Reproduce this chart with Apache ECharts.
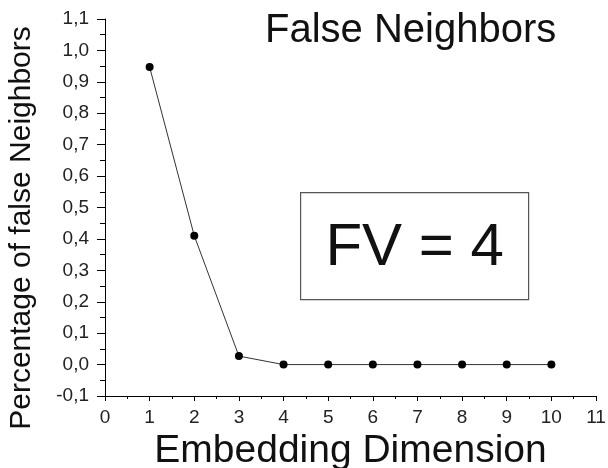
<!DOCTYPE html>
<html>
<head>
<meta charset="utf-8">
<script src="https://cdn.jsdelivr.net/npm/echarts@6/dist/echarts.min.js"></script>
<style>
  html, body { margin: 0; padding: 0; background: #fff; }
  #chart { width: 608px; height: 468px; }
</style>
</head>
<body>
<div id="chart"></div>
<script>
// embedding dimension vs fraction of false neighbours
const dims = [1, 2, 3, 4, 5, 6, 7, 8, 9, 10];
const falseFrac = [0.947, 0.41, 0.027, 0, 0, 0, 0, 0, 0, 0];
const xTicks = [0, 1, 2, 3, 4, 5, 6, 7, 8, 9, 10, 11];
const yTicks = [-0.1, 0, 0.1, 0.2, 0.3, 0.4, 0.5, 0.6, 0.7, 0.8, 0.9, 1.0, 1.1];
const boxText = 'FV = 4';

const font = 'Liberation Sans, Arial, sans-serif';

const chart = echarts.init(document.getElementById('chart'));

const fmt = (v) => v.toFixed(1).replace('.', ',');

chart.setOption({
  animation: false,
  backgroundColor: '#fff',
  title: {
    text: 'False Neighbors',
    left: 260,
    top: 6,
    textStyle: { fontFamily: font, fontSize: 40, fontWeight: 'normal', color: '#111' }
  },
  grid: { left: 105, right: 12, top: 19, bottom: 72, outerBoundsMode: 'none', containLabel: false },
  xAxis: {
    type: 'value',
    min: xTicks[0],
    max: xTicks[xTicks.length - 1],
    interval: 1,
    name: 'Embedding Dimension',
    nameLocation: 'middle',
    nameGap: 31,
    nameTextStyle: { fontFamily: font, fontSize: 39, color: '#111' },
    axisLine: { onZero: false, lineStyle: { color: '#000', width: 1 } },
    axisTick: { length: 5, lineStyle: { color: '#000' } },
    minorTick: { show: true, splitNumber: 2, length: 3, lineStyle: { color: '#000' } },
    axisLabel: { fontFamily: font, fontSize: 19, color: '#222', margin: 12 },
    splitLine: { show: false }
  },
  yAxis: {
    type: 'value',
    min: yTicks[0],
    max: yTicks[yTicks.length - 1],
    interval: 0.1,
    axisLine: { show: true, onZero: false, lineStyle: { color: '#000', width: 1 } },
    axisTick: { show: true, length: 8, lineStyle: { color: '#000' } },
    minorTick: { show: true, splitNumber: 2, length: 5, lineStyle: { color: '#000' } },
    axisLabel: { fontFamily: font, fontSize: 19, color: '#222', margin: 16, formatter: fmt },
    splitLine: { show: false }
  },
  graphic: [
    {
      // y axis title, sits a bit lower than the plot centre in the original
      type: 'text',
      x: 22,
      y: 228,
      rotation: Math.PI / 2,
      style: {
        text: 'Percentage of false Neighbors',
        fontFamily: font,
        fontSize: 30,
        fill: '#111',
        align: 'center',
        verticalAlign: 'middle'
      }
    },
    {
      type: 'group',
      left: 300,
      top: 192,
      children: [
        {
          type: 'rect',
          shape: { x: 0, y: 0, width: 228, height: 107 },
          style: { fill: '#fff', stroke: '#555', lineWidth: 1.2 }
        },
        {
          type: 'text',
          x: 114,
          y: 56,
          style: {
            text: boxText,
            fontFamily: font,
            fontSize: 60,
            fill: '#111',
            align: 'center',
            verticalAlign: 'middle'
          }
        }
      ]
    }
  ],
  series: [
    {
      type: 'line',
      data: dims.map((d, i) => [d, falseFrac[i]]),
      symbol: 'circle',
      symbolSize: 8,
      itemStyle: { color: '#000' },
      lineStyle: { color: '#333', width: 1 }
    }
  ]
});
</script>
</body>
</html>
